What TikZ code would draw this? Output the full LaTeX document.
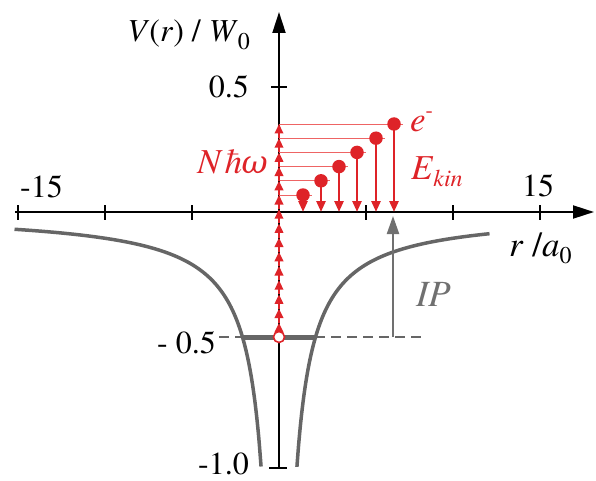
\documentclass[tikz,border=0pt]{standalone}
\usepackage{fontspec}
\IfFontExistsTF{TeX Gyre Termes}{\setmainfont{TeX Gyre Termes}}{}
\newfontfamily\grkfont{DejaVu Serif}
\usetikzlibrary{arrows.meta}
\definecolor{myred}{RGB}{222,35,40}
\definecolor{lightred}{RGB}{238,100,100}
\definecolor{curvegray}{RGB}{102,102,102}
\definecolor{ipgray}{RGB}{112,112,112}
\newcommand{\sbs}[1]{\raisebox{-0.22em}{\fontsize{24}{24}\selectfont #1}}
\begin{document}
\begin{tikzpicture}[x=1pt,y=-1pt,
  axisln/.style={black,line width=2pt},
  axarrow/.style={axisln,-{Triangle[length=21pt,width=13pt]}},
  curve/.style={curvegray,line width=3.5pt},
  dashln/.style={curvegray,line width=1.6pt,dash pattern=on 10pt off 6pt},
  iparrow/.style={ipgray,line width=2.2pt,-{Triangle[length=18pt,width=12pt]}},
  ladder/.style={myred,line width=2pt,-{Triangle[length=9.5pt,width=8.5pt]}},
  thinred/.style={lightred,line width=0.9pt},
  elarrow/.style={myred,line width=2.6pt,-{Triangle[length=11pt,width=9pt]}},
  dot/.style={circle,fill=myred,inner sep=0pt,minimum size=13.5pt},
  lbl/.style={inner sep=0pt,font=\fontsize{32}{36}\selectfont},
  redlbl/.style={inner sep=0pt,text=myred,font=\fontsize{35}{38}\selectfont}]
\useasboundingbox (0,0) rectangle (596,481);

% axes
\coordinate (xl) at (15,212);
\coordinate (xr) at (594,212);
\coordinate (yb) at (279,468);
\coordinate (yt) at (279,12);
\draw[axarrow] (xl) -- (xr);
\draw[axarrow] (yb) -- (yt);
\foreach \xx in {18,105,192,366,453,540}
  \draw[axisln] (\xx,205) -- (\xx,220);
\draw[axisln] (271,87) -- (287,87);
\draw[axisln] (269,468) -- (287,468);

% potential curve
\draw[curve] plot[domain=-15.2:-1.03,samples=120,smooth] ({279+17.4*\x},{212+262.5/abs(\x)});
\draw[curve] plot[domain=1.03:12.1,samples=120,smooth] ({279+17.4*\x},{212+262.5/abs(\x)});

% ground level and IP
\coordinate (gl) at (219,337);
\coordinate (ga) at (242,337);
\coordinate (gb) at (315,337);
\coordinate (gr) at (423,337);
\draw[dashln] (gl) -- (ga);
\draw[dashln] (gb) -- (gr);
\draw[curvegray,line width=5pt] (ga) -- (gb);
\coordinate (ipb) at (393,337);
\coordinate (ipt) at (393,216);
\draw[iparrow] (ipb) -- (ipt);

% photon ladder
\foreach \k in {0,...,15} \coordinate (L\k) at (279,{337-14.2*\k});
\foreach \i/\xx in {0/303,1/321,2/339,3/357,4/376,5/394}{
  \pgfmathtruncatemacro\k{10+\i}
  \coordinate (H\i) at ({\xx+9},{337-14.2*\k});
  \draw[thinred] (L\k) -- (H\i);
}
\foreach \k [count=\j from 0] in {1,...,15} \draw[ladder] (L\j) -- (L\k);
\node[circle,draw=myred,fill=white,line width=1.6pt,minimum size=11pt,inner sep=0pt] (c0) at (279,337) {};

% electrons
\foreach \i/\xx in {0/303,1/321,2/339,3/357,4/376,5/394}{
  \pgfmathtruncatemacro\k{10+\i}
  \coordinate (G\i) at (\xx,212);
  \node[dot] (e\i) at (\xx,{337-14.2*\k}) {};
  \draw[elarrow] (e\i.center) -- (G\i);
}

% labels
\node[lbl,anchor=base east] (vlab) at (250,42) {\textit{V}(\textit{r}) / \textit{W}\sbs{0}};
\node[lbl,anchor=base east] (p05) at (249,98) {0.5};
\node[lbl,anchor=base west] (m15) at (20,197) {-15};
\node[lbl,anchor=base west] (p15) at (522,196) {15};
\node[lbl,anchor=base east] (m05) at (216,353) {- 0.5};
\node[lbl,anchor=base east] (m10) at (249,474) {-1.0};
\node[lbl,font=\fontsize{35}{38}\selectfont,anchor=base west] (rlab) at (509,256) {\textit{r} /\textit{a}\sbs{0}};
\node[lbl,font=\fontsize{37}{40}\selectfont,text=ipgray,anchor=base west] (ip) at (416,306) {\textit{IP}};
\node[redlbl,anchor=base east] (nhw) at (268,173) {\textit{Nħ}{\grkfont\itshape\fontsize{32}{36}\selectfont ω}};
\node[redlbl,anchor=base west] (el) at (410,132) {\textit{e}\raisebox{0.42em}{\fontsize{22}{22}\selectfont -}};
\node[redlbl,anchor=base west] (ek) at (411,179) {\textit{E}\sbs{\textit{kin}}};
\end{tikzpicture}
\end{document}
